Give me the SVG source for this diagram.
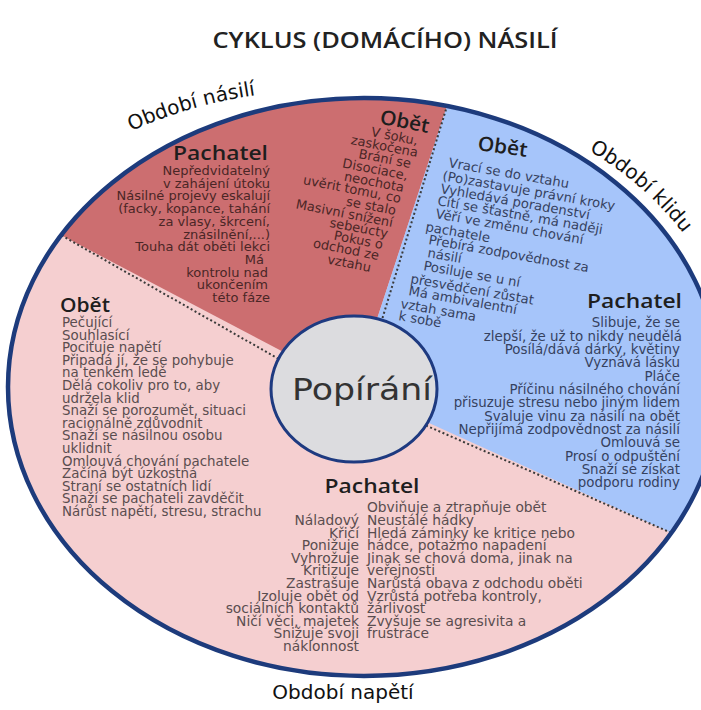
<svg xmlns="http://www.w3.org/2000/svg" width="701" height="710" viewBox="0 0 701 710">
<defs>
<style>
text{font-family:"DejaVu Sans","Open Sans",sans-serif;}
.ttl{font-family:"Open Sans","DejaVu Sans",sans-serif;font-size:21px;font-weight:600;fill:#222;}
.per{font-size:20px;fill:#111;}
.hd{font-family:"Open Sans","DejaVu Sans",sans-serif;font-size:20px;font-weight:600;fill:#1e1e1e;}
.tp{font-size:13.4px;fill:#5a4d4f;}
.tr{font-size:13px;fill:#4a2626;}
.tb{font-size:13.4px;fill:#36425f;}
.tbs{font-size:13.2px;fill:#36425f;}
.tbot{font-size:13.8px;fill:#5a4d4f;}
.div{stroke:#3a3a3a;stroke-width:2;stroke-dasharray:2 2.5;fill:none;}
</style>
<path id="arcViolence" d="M 131 131 Q 199 101 272 93"/>
<path id="arcCalm" d="M 589 151 Q 640 179 684 234"/>
</defs>
<rect width="701" height="710" fill="#ffffff"/>

<g id="title"><text class="ttl" x="385" y="48" text-anchor="middle" textLength="345" lengthAdjust="spacingAndGlyphs">CYKLUS (DOMÁCÍHO) NÁSILÍ</text></g>

<g id="region-tension">
<ellipse cx="364" cy="387" rx="356" ry="289" fill="#f5cfd0"/>
</g>
<g id="region-violence">
<path d="M 354 389 L 61 235.1 A 356 289 0 0 1 447 106 Z" fill="#cc6e70"/>
</g>
<g id="region-calm">
<path d="M 354 389 L 447 106 A 356 289 0 0 1 671.5 533 Z" fill="#a6c5fa"/>
</g>

<g id="connectors">
<line class="div" x1="382.5" y1="318" x2="447" y2="106"/>
<line class="div" x1="278.5" y1="358.8" x2="61" y2="235.1"/>
<line class="div" x1="426" y1="425.5" x2="671.5" y2="533"/>
</g>

<g id="outline"><ellipse cx="364" cy="387" rx="356" ry="289" fill="none" stroke="#1d3b7c" stroke-width="4.5"/></g>

<g id="center-denial">
<ellipse cx="354" cy="389" rx="83" ry="73" fill="#dcdcdf" stroke="#1e3a80" stroke-width="3"/>
<text x="362" y="400" text-anchor="middle" font-family="Open Sans, sans-serif" font-size="31" fill="#333" textLength="140" lengthAdjust="spacingAndGlyphs">Popírání</text>
</g>

<g id="label-violence"><text class="per" font-size="21"><textPath href="#arcViolence">Období násilí</textPath></text></g>
<g id="label-calm"><text class="per" font-size="18"><textPath href="#arcCalm">Období klidu</textPath></text></g>
<g id="label-tension"><text class="per" x="343" y="699" text-anchor="middle" font-size="21">Období napětí</text></g>

<g id="violence-perpetrator" text-anchor="end">
<text class="hd" x="268" y="160" textLength="95" lengthAdjust="spacingAndGlyphs">Pachatel</text>
<g class="tr">
<text x="270" y="175">Nepředvidatelný</text>
<text x="270" y="187.7">v zahájení útoku</text>
<text x="270" y="200.4">Násilné projevy eskalují</text>
<text x="270" y="213.1">(facky, kopance, tahání</text>
<text x="270" y="225.8">za vlasy, škrcení,</text>
<text x="270" y="238.5">znásilnění,...)</text>
<text x="270" y="251.2">Touha dát oběti lekci</text>
<text x="264" y="263.9">Má</text>
<text x="268" y="276.6">kontrolu nad</text>
<text x="268" y="289.3">ukončením</text>
<text x="270" y="302">této fáze</text>
</g>
</g>

<g id="violence-victim" text-anchor="end">
<text class="hd" x="428" y="133" transform="rotate(11 428 133)" textLength="50" lengthAdjust="spacingAndGlyphs">Obět</text>
<g class="tr">
<text x="417" y="145" transform="rotate(11 417 145)">V šoku,</text>
<text x="417" y="157" transform="rotate(11 417 157)">zaskočena</text>
<text x="410" y="168" transform="rotate(11 410 168)">Brání se</text>
<text x="407" y="180" transform="rotate(11 407 180)">Disociace,</text>
<text x="403" y="192" transform="rotate(11 403 192)">neochota</text>
<text x="400" y="203" transform="rotate(11 400 203)">uvěrit tomu, co</text>
<text x="395" y="215" transform="rotate(11 395 215)">se stalo</text>
<text x="392" y="227" transform="rotate(11 392 227)">Masivní snížení</text>
<text x="387" y="238" transform="rotate(11 387 238)">sebeúcty</text>
<text x="382" y="249" transform="rotate(11 382 249)">Pokus o</text>
<text x="378" y="260" transform="rotate(11 378 260)">odchod ze</text>
<text x="370" y="272" transform="rotate(11 370 272)">vztahu</text>
</g>
</g>

<g id="calm-victim">
<text class="hd" x="477" y="150" transform="rotate(8 477 150)" textLength="50" lengthAdjust="spacingAndGlyphs">Obět</text>
<g class="tbs">
<text x="448" y="167" transform="rotate(10 448 167)">Vrací se do vztahu</text>
<text x="442" y="180" transform="rotate(10 442 180)">(Po)zastavuje právní kroky</text>
<text x="440" y="193" transform="rotate(10 440 193)">Vyhledává poradenství</text>
<text x="437" y="205" transform="rotate(10 437 205)">Cítí se šťastně, má naději</text>
<text x="435" y="218" transform="rotate(10 435 218)">Věří ve změnu chování</text>
<text x="425" y="231" transform="rotate(10 425 231)">pachatele</text>
<text x="428" y="244" transform="rotate(10 428 244)">Přebírá zodpovědnost za</text>
<text x="427" y="257" transform="rotate(10 427 257)">násilí</text>
<text x="423" y="270" transform="rotate(10 423 270)">Posiluje se u ní</text>
<text x="410" y="283" transform="rotate(10 410 283)">přesvědčení zůstat</text>
<text x="408" y="295" transform="rotate(10 408 295)">Má ambivalentní</text>
<text x="400" y="308" transform="rotate(10 400 308)">vztah sama</text>
<text x="398" y="320" transform="rotate(10 398 320)">k sobě</text>
</g>
</g>

<g id="calm-perpetrator" text-anchor="end">
<text class="hd" x="682" y="308" textLength="95" lengthAdjust="spacingAndGlyphs">Pachatel</text>
<g class="tb">
<text x="680" y="327">Slibuje, že se</text>
<text x="682" y="340.5">zlepší, že už to nikdy neudělá</text>
<text x="680" y="354">Posílá/dává dárky, květiny</text>
<text x="680" y="367">Vyznává lásku</text>
<text x="680" y="380.5">Pláče</text>
<text x="680" y="394">Příčinu násilného chování</text>
<text x="680" y="407">přisuzuje stresu nebo jiným lidem</text>
<text x="680" y="420.5">Svaluje vinu za násilí na obět</text>
<text x="680" y="434">Nepřijímá zodpovědnost za násilí</text>
<text x="680" y="447">Omlouvá se</text>
<text x="680" y="460.5">Prosí o odpuštění</text>
<text x="680" y="474">Snaží se získat</text>
<text x="680" y="487">podporu rodiny</text>
</g>
</g>

<g id="tension-victim">
<text class="hd" x="60" y="312" textLength="50" lengthAdjust="spacingAndGlyphs">Obět</text>
<g class="tp">
<text x="62" y="327">Pečující</text>
<text x="62" y="339.6">Souhlasící</text>
<text x="62" y="352.2">Pociťuje napětí</text>
<text x="62" y="364.8">Připadá jí, že se pohybuje</text>
<text x="62" y="377.4">na tenkém ledě</text>
<text x="62" y="390">Dělá cokoliv pro to, aby</text>
<text x="62" y="402.6">udržela klid</text>
<text x="62" y="415.2">Snaží se porozumět, situaci</text>
<text x="62" y="427.8">racionálně zdůvodnit</text>
<text x="62" y="440.4">Snaží se násilnou osobu</text>
<text x="62" y="453">uklidnit</text>
<text x="62" y="465.6">Omlouvá chování pachatele</text>
<text x="62" y="478.2">Začíná být úzkostná</text>
<text x="62" y="490.8">Straní se ostatních lidí</text>
<text x="62" y="503.4">Snaží se pachateli zavděčit</text>
<text x="62" y="516">Nárůst napětí, stresu, strachu</text>
</g>
</g>

<g id="tension-perpetrator">
<text class="hd" x="372" y="493" text-anchor="middle" textLength="95" lengthAdjust="spacingAndGlyphs">Pachatel</text>
<g class="tbot" text-anchor="end">
<text x="359" y="525">Náladový</text>
<text x="359" y="537.6">Křičí</text>
<text x="359" y="550.2">Ponižuje</text>
<text x="359" y="562.8">Vyhrožuje</text>
<text x="359" y="575.4">Kritizuje</text>
<text x="359" y="588">Zastrašuje</text>
<text x="359" y="600.6">Izoluje obět od</text>
<text x="359" y="613.2">sociálních kontaktů</text>
<text x="359" y="625.8">Ničí věci, majetek</text>
<text x="359" y="638.4">Snižuje svoji</text>
<text x="359" y="651">náklonnost</text>
</g>
<g class="tbot">
<text x="367" y="512.4">Obviňuje a ztrapňuje obět</text>
<text x="367" y="525">Neustálé hádky</text>
<text x="367" y="537.6">Hledá záminky ke kritice nebo</text>
<text x="367" y="550.2">hádce, potažmo napadení</text>
<text x="367" y="562.8">Jinak se chová doma, jinak na</text>
<text x="367" y="575.4">veřejnosti</text>
<text x="367" y="588">Narůstá obava z odchodu oběti</text>
<text x="367" y="600.6">Vzrůstá potřeba kontroly,</text>
<text x="367" y="613.2">žárlivost</text>
<text x="367" y="625.8">Zvyšuje se agresivita a</text>
<text x="367" y="638.4">frustrace</text>
</g>
</g>
</svg>
